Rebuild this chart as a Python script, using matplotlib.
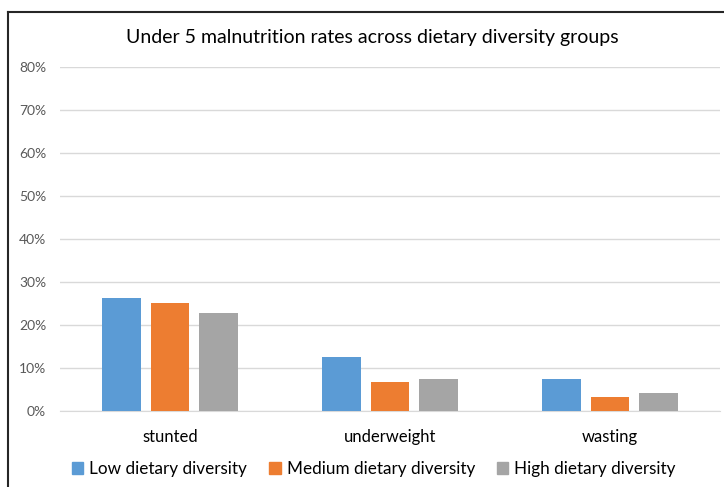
import matplotlib
matplotlib.use("Agg")
import matplotlib.pyplot as plt
from matplotlib.lines import Line2D
from matplotlib.ticker import PercentFormatter
import numpy as np

plt.rcParams['font.family'] = ['Lato', 'DejaVu Sans']

categories = ["stunted", "underweight", "wasting"]
series_names = ["Low dietary diversity", "Medium dietary diversity", "High dietary diversity"]
low = [26.3, 12.4, 7.3]
medium = [25.1, 6.7, 3.3]
high = [22.8, 7.3, 4.1]
colors = ["#5B9BD5", "#ED7D31", "#A5A5A5"]
yticks = [0, 10, 20, 30, 40, 50, 60, 70, 80]

W, H = 724, 487
fig = plt.figure(figsize=(W / 100, H / 100), dpi=100)
ax = fig.add_axes([60 / W, 1 - 410.7 / H, 660 / W, (410.7 - 67) / H])

x = np.arange(len(categories))
width = 0.176
offset = 0.222
for i, (vals, name, c) in enumerate(zip([low, medium, high], series_names, colors)):
    ax.bar(x + (i - 1) * offset, vals, width, color=c, label=name, zorder=3)

ax.set_xlim(-0.5, 2.5)
ax.set_ylim(0, 80)
ax.set_yticks(yticks)
ax.yaxis.set_major_formatter(PercentFormatter(decimals=0))
ax.set_xticks(x)
ax.set_xticklabels(categories)
ax.grid(axis='y', color='#D9D9D9', linewidth=1, zorder=0)
for s in ['top', 'right', 'left']:
    ax.spines[s].set_visible(False)
ax.spines['bottom'].set_color('#D9D9D9')
ax.tick_params(axis='both', length=0, colors='#595959')
ax.tick_params(axis='y', labelsize=10, pad=10)
ax.tick_params(axis='x', labelsize=12, pad=13, labelcolor='#000000')

fig.text(372 / W, 1 - 37 / H, "Under 5 malnutrition rates across dietary diversity groups",
         ha='center', va='center', fontsize=14, color='#000000')

handles = [plt.Rectangle((0, 0), 1, 1, color=c) for c in colors]
fig.legend(handles, series_names, loc='center', bbox_to_anchor=(374 / W, 1 - 469 / H),
           ncol=3, frameon=False, fontsize=12.3, handlelength=0.65, handleheight=0.7,
           handletextpad=0.35, columnspacing=1.3)

# chart frame
fig.add_artist(Line2D([8 / W, 8 / W], [0, 1 - 11.5 / H], transform=fig.transFigure,
                      color='#262626', linewidth=1.5))
fig.add_artist(Line2D([8 / W, 1], [1 - 11.5 / H, 1 - 11.5 / H], transform=fig.transFigure,
                      color='#262626', linewidth=1.5))

fig.savefig("out.png", dpi=100)
